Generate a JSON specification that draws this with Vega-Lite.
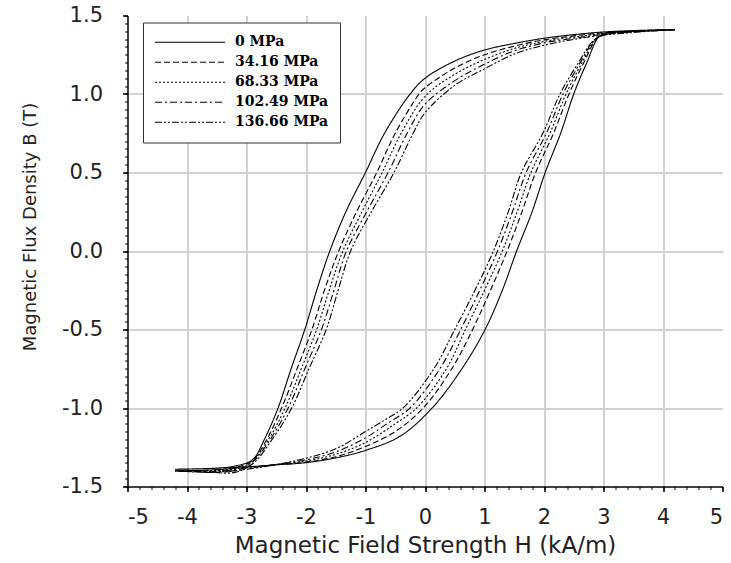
{
  "$schema": "https://vega.github.io/schema/vega-lite/v6.json",
  "width": 595,
  "height": 471,
  "autosize": {"type": "none"},
  "padding": {"left": 127.5, "top": 15.5, "right": 8.5, "bottom": 76.5},
  "background": "white",
  "config": {
    "view": {"stroke": null},
    "font": "DejaVu Sans"
  },
  "data": {
    "values": [
      {"s":"0 MPa","i":1,"h":4.2,"b":1.41},{"s":"0 MPa","i":2,"h":3.6,"b":1.405},{"s":"0 MPa","i":3,"h":3.0,"b":1.395},{"s":"0 MPa","i":4,"h":2.5,"b":1.378},{"s":"0 MPa","i":5,"h":2.0,"b":1.355},{"s":"0 MPa","i":6,"h":1.5,"b":1.322},{"s":"0 MPa","i":7,"h":1.0,"b":1.28},{"s":"0 MPa","i":8,"h":0.5,"b":1.21},{"s":"0 MPa","i":9,"h":0.0,"b":1.10},{"s":"0 MPa","i":10,"h":-0.25,"b":1.0},{"s":"0 MPa","i":11,"h":-0.68,"b":0.75},{"s":"0 MPa","i":12,"h":-1.0,"b":0.5},{"s":"0 MPa","i":13,"h":-1.33,"b":0.25},{"s":"0 MPa","i":14,"h":-1.6,"b":0.0},{"s":"0 MPa","i":15,"h":-1.82,"b":-0.25},{"s":"0 MPa","i":16,"h":-2.02,"b":-0.5},{"s":"0 MPa","i":17,"h":-2.25,"b":-0.75},{"s":"0 MPa","i":18,"h":-2.47,"b":-1.0},{"s":"0 MPa","i":19,"h":-2.7,"b":-1.2},{"s":"0 MPa","i":20,"h":-2.9,"b":-1.33},{"s":"0 MPa","i":21,"h":-3.2,"b":-1.37},{"s":"0 MPa","i":22,"h":-3.6,"b":-1.385},{"s":"0 MPa","i":23,"h":-4.2,"b":-1.39},{"s":"0 MPa","i":24,"h":-3.6,"b":-1.385},{"s":"0 MPa","i":25,"h":-3.0,"b":-1.375},{"s":"0 MPa","i":26,"h":-2.5,"b":-1.362},{"s":"0 MPa","i":27,"h":-2.0,"b":-1.348},{"s":"0 MPa","i":28,"h":-1.5,"b":-1.318},{"s":"0 MPa","i":29,"h":-1.0,"b":-1.27},{"s":"0 MPa","i":30,"h":-0.42,"b":-1.18},{"s":"0 MPa","i":31,"h":0.12,"b":-1.0},{"s":"0 MPa","i":32,"h":0.62,"b":-0.75},{"s":"0 MPa","i":33,"h":1.01,"b":-0.5},{"s":"0 MPa","i":34,"h":1.3,"b":-0.25},{"s":"0 MPa","i":35,"h":1.54,"b":0.0},{"s":"0 MPa","i":36,"h":1.8,"b":0.25},{"s":"0 MPa","i":37,"h":2.02,"b":0.5},{"s":"0 MPa","i":38,"h":2.28,"b":0.75},{"s":"0 MPa","i":39,"h":2.5,"b":1.0},{"s":"0 MPa","i":40,"h":2.72,"b":1.2},{"s":"0 MPa","i":41,"h":2.94,"b":1.37},{"s":"0 MPa","i":42,"h":3.2,"b":1.395},{"s":"0 MPa","i":43,"h":3.6,"b":1.403},{"s":"0 MPa","i":44,"h":4.2,"b":1.41},

      {"s":"34.16 MPa","i":1,"h":4.2,"b":1.41},{"s":"34.16 MPa","i":2,"h":3.6,"b":1.40},{"s":"34.16 MPa","i":3,"h":3.0,"b":1.39},{"s":"34.16 MPa","i":4,"h":2.5,"b":1.37},{"s":"34.16 MPa","i":5,"h":2.0,"b":1.345},{"s":"34.16 MPa","i":6,"h":1.5,"b":1.305},{"s":"34.16 MPa","i":7,"h":1.0,"b":1.25},{"s":"34.16 MPa","i":8,"h":0.5,"b":1.165},{"s":"34.16 MPa","i":9,"h":0.0,"b":1.04},{"s":"34.16 MPa","i":10,"h":-0.1,"b":1.0},{"s":"34.16 MPa","i":11,"h":-0.5,"b":0.75},{"s":"34.16 MPa","i":12,"h":-0.81,"b":0.5},{"s":"34.16 MPa","i":13,"h":-1.15,"b":0.25},{"s":"34.16 MPa","i":14,"h":-1.45,"b":0.0},{"s":"34.16 MPa","i":15,"h":-1.69,"b":-0.25},{"s":"34.16 MPa","i":16,"h":-1.90,"b":-0.5},{"s":"34.16 MPa","i":17,"h":-2.15,"b":-0.75},{"s":"34.16 MPa","i":18,"h":-2.41,"b":-1.0},{"s":"34.16 MPa","i":19,"h":-2.66,"b":-1.2},{"s":"34.16 MPa","i":20,"h":-2.9,"b":-1.335},{"s":"34.16 MPa","i":21,"h":-3.2,"b":-1.38},{"s":"34.16 MPa","i":22,"h":-3.6,"b":-1.395},{"s":"34.16 MPa","i":23,"h":-4.2,"b":-1.40},{"s":"34.16 MPa","i":24,"h":-3.6,"b":-1.395},{"s":"34.16 MPa","i":25,"h":-3.0,"b":-1.378},{"s":"34.16 MPa","i":26,"h":-2.5,"b":-1.362},{"s":"34.16 MPa","i":27,"h":-2.0,"b":-1.345},{"s":"34.16 MPa","i":28,"h":-1.5,"b":-1.31},{"s":"34.16 MPa","i":29,"h":-1.0,"b":-1.245},{"s":"34.16 MPa","i":30,"h":-0.5,"b":-1.15},{"s":"34.16 MPa","i":31,"h":-0.03,"b":-1.0},{"s":"34.16 MPa","i":32,"h":0.45,"b":-0.75},{"s":"34.16 MPa","i":33,"h":0.8,"b":-0.5},{"s":"34.16 MPa","i":34,"h":1.1,"b":-0.25},{"s":"34.16 MPa","i":35,"h":1.38,"b":0.0},{"s":"34.16 MPa","i":36,"h":1.63,"b":0.25},{"s":"34.16 MPa","i":37,"h":1.86,"b":0.5},{"s":"34.16 MPa","i":38,"h":2.16,"b":0.75},{"s":"34.16 MPa","i":39,"h":2.42,"b":1.0},{"s":"34.16 MPa","i":40,"h":2.67,"b":1.2},{"s":"34.16 MPa","i":41,"h":2.92,"b":1.365},{"s":"34.16 MPa","i":42,"h":3.2,"b":1.392},{"s":"34.16 MPa","i":43,"h":3.6,"b":1.403},{"s":"34.16 MPa","i":44,"h":4.2,"b":1.41},

      {"s":"68.33 MPa","i":1,"h":4.2,"b":1.41},{"s":"68.33 MPa","i":2,"h":3.6,"b":1.40},{"s":"68.33 MPa","i":3,"h":3.0,"b":1.385},{"s":"68.33 MPa","i":4,"h":2.5,"b":1.362},{"s":"68.33 MPa","i":5,"h":2.0,"b":1.335},{"s":"68.33 MPa","i":6,"h":1.5,"b":1.29},{"s":"68.33 MPa","i":7,"h":1.0,"b":1.22},{"s":"68.33 MPa","i":8,"h":0.5,"b":1.125},{"s":"68.33 MPa","i":9,"h":0.0,"b":0.985},{"s":"68.33 MPa","i":10,"h":-0.4,"b":0.75},{"s":"68.33 MPa","i":11,"h":-0.72,"b":0.5},{"s":"68.33 MPa","i":12,"h":-1.06,"b":0.25},{"s":"68.33 MPa","i":13,"h":-1.38,"b":0.0},{"s":"68.33 MPa","i":14,"h":-1.61,"b":-0.25},{"s":"68.33 MPa","i":15,"h":-1.82,"b":-0.5},{"s":"68.33 MPa","i":16,"h":-2.08,"b":-0.75},{"s":"68.33 MPa","i":17,"h":-2.35,"b":-1.0},{"s":"68.33 MPa","i":18,"h":-2.63,"b":-1.2},{"s":"68.33 MPa","i":19,"h":-2.9,"b":-1.34},{"s":"68.33 MPa","i":20,"h":-3.2,"b":-1.39},{"s":"68.33 MPa","i":21,"h":-3.6,"b":-1.40},{"s":"68.33 MPa","i":22,"h":-4.2,"b":-1.40},{"s":"68.33 MPa","i":23,"h":-3.6,"b":-1.40},{"s":"68.33 MPa","i":24,"h":-3.0,"b":-1.38},{"s":"68.33 MPa","i":25,"h":-2.5,"b":-1.36},{"s":"68.33 MPa","i":26,"h":-2.0,"b":-1.338},{"s":"68.33 MPa","i":27,"h":-1.5,"b":-1.295},{"s":"68.33 MPa","i":28,"h":-1.0,"b":-1.22},{"s":"68.33 MPa","i":29,"h":-0.5,"b":-1.10},{"s":"68.33 MPa","i":30,"h":-0.14,"b":-1.0},{"s":"68.33 MPa","i":31,"h":0.36,"b":-0.75},{"s":"68.33 MPa","i":32,"h":0.68,"b":-0.5},{"s":"68.33 MPa","i":33,"h":1.0,"b":-0.25},{"s":"68.33 MPa","i":34,"h":1.30,"b":0.0},{"s":"68.33 MPa","i":35,"h":1.55,"b":0.25},{"s":"68.33 MPa","i":36,"h":1.78,"b":0.5},{"s":"68.33 MPa","i":37,"h":2.10,"b":0.75},{"s":"68.33 MPa","i":38,"h":2.37,"b":1.0},{"s":"68.33 MPa","i":39,"h":2.64,"b":1.2},{"s":"68.33 MPa","i":40,"h":2.9,"b":1.36},{"s":"68.33 MPa","i":41,"h":3.2,"b":1.39},{"s":"68.33 MPa","i":42,"h":3.6,"b":1.402},{"s":"68.33 MPa","i":43,"h":4.2,"b":1.41},

      {"s":"102.49 MPa","i":1,"h":4.2,"b":1.41},{"s":"102.49 MPa","i":2,"h":3.6,"b":1.398},{"s":"102.49 MPa","i":3,"h":3.0,"b":1.38},{"s":"102.49 MPa","i":4,"h":2.5,"b":1.355},{"s":"102.49 MPa","i":5,"h":2.0,"b":1.325},{"s":"102.49 MPa","i":6,"h":1.5,"b":1.275},{"s":"102.49 MPa","i":7,"h":1.0,"b":1.19},{"s":"102.49 MPa","i":8,"h":0.5,"b":1.085},{"s":"102.49 MPa","i":9,"h":0.0,"b":0.935},{"s":"102.49 MPa","i":10,"h":-0.3,"b":0.75},{"s":"102.49 MPa","i":11,"h":-0.62,"b":0.5},{"s":"102.49 MPa","i":12,"h":-0.98,"b":0.25},{"s":"102.49 MPa","i":13,"h":-1.32,"b":0.0},{"s":"102.49 MPa","i":14,"h":-1.53,"b":-0.25},{"s":"102.49 MPa","i":15,"h":-1.74,"b":-0.5},{"s":"102.49 MPa","i":16,"h":-2.02,"b":-0.75},{"s":"102.49 MPa","i":17,"h":-2.30,"b":-1.0},{"s":"102.49 MPa","i":18,"h":-2.60,"b":-1.2},{"s":"102.49 MPa","i":19,"h":-2.9,"b":-1.345},{"s":"102.49 MPa","i":20,"h":-3.2,"b":-1.40},{"s":"102.49 MPa","i":21,"h":-3.6,"b":-1.405},{"s":"102.49 MPa","i":22,"h":-4.2,"b":-1.40},{"s":"102.49 MPa","i":23,"h":-3.6,"b":-1.405},{"s":"102.49 MPa","i":24,"h":-3.0,"b":-1.385},{"s":"102.49 MPa","i":25,"h":-2.5,"b":-1.36},{"s":"102.49 MPa","i":26,"h":-2.0,"b":-1.33},{"s":"102.49 MPa","i":27,"h":-1.5,"b":-1.28},{"s":"102.49 MPa","i":28,"h":-1.0,"b":-1.19},{"s":"102.49 MPa","i":29,"h":-0.6,"b":-1.09},{"s":"102.49 MPa","i":30,"h":-0.25,"b":-1.0},{"s":"102.49 MPa","i":31,"h":0.25,"b":-0.75},{"s":"102.49 MPa","i":32,"h":0.6,"b":-0.5},{"s":"102.49 MPa","i":33,"h":0.92,"b":-0.25},{"s":"102.49 MPa","i":34,"h":1.22,"b":0.0},{"s":"102.49 MPa","i":35,"h":1.47,"b":0.25},{"s":"102.49 MPa","i":36,"h":1.70,"b":0.5},{"s":"102.49 MPa","i":37,"h":2.04,"b":0.75},{"s":"102.49 MPa","i":38,"h":2.32,"b":1.0},{"s":"102.49 MPa","i":39,"h":2.61,"b":1.2},{"s":"102.49 MPa","i":40,"h":2.88,"b":1.355},{"s":"102.49 MPa","i":41,"h":3.2,"b":1.39},{"s":"102.49 MPa","i":42,"h":3.6,"b":1.40},{"s":"102.49 MPa","i":43,"h":4.2,"b":1.41},

      {"s":"136.66 MPa","i":1,"h":4.2,"b":1.41},{"s":"136.66 MPa","i":2,"h":3.6,"b":1.395},{"s":"136.66 MPa","i":3,"h":3.0,"b":1.375},{"s":"136.66 MPa","i":4,"h":2.5,"b":1.348},{"s":"136.66 MPa","i":5,"h":2.0,"b":1.31},{"s":"136.66 MPa","i":6,"h":1.5,"b":1.255},{"s":"136.66 MPa","i":7,"h":1.0,"b":1.16},{"s":"136.66 MPa","i":8,"h":0.5,"b":1.055},{"s":"136.66 MPa","i":9,"h":0.0,"b":0.88},{"s":"136.66 MPa","i":10,"h":-0.2,"b":0.75},{"s":"136.66 MPa","i":11,"h":-0.52,"b":0.5},{"s":"136.66 MPa","i":12,"h":-0.9,"b":0.25},{"s":"136.66 MPa","i":13,"h":-1.25,"b":0.0},{"s":"136.66 MPa","i":14,"h":-1.46,"b":-0.25},{"s":"136.66 MPa","i":15,"h":-1.66,"b":-0.5},{"s":"136.66 MPa","i":16,"h":-1.95,"b":-0.75},{"s":"136.66 MPa","i":17,"h":-2.24,"b":-1.0},{"s":"136.66 MPa","i":18,"h":-2.57,"b":-1.2},{"s":"136.66 MPa","i":19,"h":-2.88,"b":-1.35},{"s":"136.66 MPa","i":20,"h":-3.2,"b":-1.41},{"s":"136.66 MPa","i":21,"h":-3.6,"b":-1.41},{"s":"136.66 MPa","i":22,"h":-4.2,"b":-1.40},{"s":"136.66 MPa","i":23,"h":-3.6,"b":-1.41},{"s":"136.66 MPa","i":24,"h":-3.0,"b":-1.39},{"s":"136.66 MPa","i":25,"h":-2.5,"b":-1.36},{"s":"136.66 MPa","i":26,"h":-2.0,"b":-1.32},{"s":"136.66 MPa","i":27,"h":-1.5,"b":-1.26},{"s":"136.66 MPa","i":28,"h":-1.0,"b":-1.15},{"s":"136.66 MPa","i":29,"h":-0.65,"b":-1.07},{"s":"136.66 MPa","i":30,"h":-0.37,"b":-1.0},{"s":"136.66 MPa","i":31,"h":0.15,"b":-0.75},{"s":"136.66 MPa","i":32,"h":0.5,"b":-0.5},{"s":"136.66 MPa","i":33,"h":0.84,"b":-0.25},{"s":"136.66 MPa","i":34,"h":1.15,"b":0.0},{"s":"136.66 MPa","i":35,"h":1.4,"b":0.25},{"s":"136.66 MPa","i":36,"h":1.62,"b":0.5},{"s":"136.66 MPa","i":37,"h":1.98,"b":0.75},{"s":"136.66 MPa","i":38,"h":2.27,"b":1.0},{"s":"136.66 MPa","i":39,"h":2.58,"b":1.2},{"s":"136.66 MPa","i":40,"h":2.86,"b":1.35},{"s":"136.66 MPa","i":41,"h":3.2,"b":1.388},{"s":"136.66 MPa","i":42,"h":3.6,"b":1.40},{"s":"136.66 MPa","i":43,"h":4.2,"b":1.41}
    ]
  },
  "layer": [
    {
      "mark": {"type": "point", "opacity": 0},
      "encoding": {
        "x": {"field": "h", "type": "quantitative", "scale": {"domain": [-5, 5], "nice": false},
          "axis": {"orient": "bottom", "tickCount": 50, "labels": false, "domain": false, "grid": false, "title": null, "tickSize": 3, "tickColor": "black", "tickWidth": 1}},
        "y": {"field": "b", "type": "quantitative", "scale": {"domain": [-1.5, 1.5], "nice": false},
          "axis": {"orient": "left", "tickCount": 60, "labels": false, "domain": false, "grid": false, "title": null, "tickSize": 3, "tickColor": "black", "tickWidth": 1}}
      }
    },
    {
      "mark": {"type": "line", "color": "black", "strokeWidth": 1.1, "interpolate": "catmull-rom"},
      "encoding": {
        "x": {"field": "h", "type": "quantitative", "scale": {"domain": [-5, 5], "nice": false},
          "axis": {"orient": "bottom", "values": [-5,-4,-3,-2,-1,0,1,2,3,4,5], "title": "Magnetic Field Strength H (kA/m)",
            "labelExpr": "replace(format(datum.value, 'd'), '\u2212', '-')",
            "grid": true, "gridColor": "#d2d2d2", "gridWidth": 2,
            "gridOpacity": {"condition": {"test": "datum.value == 5 || datum.value == -5", "value": 0}, "value": 1},
            "domainColor": "black", "domainWidth": 1.5, "tickColor": "black", "tickWidth": 1.5, "tickSize": 5,
            "labelFontSize": 21, "labelColor": "#222", "labelPadding": 15, "labelFont": "DejaVu Sans",
            "titleFontSize": 23, "titleFontWeight": "normal", "titleColor": "#222", "titlePadding": 7, "titleFont": "DejaVu Sans"}},
        "y": {"field": "b", "type": "quantitative", "scale": {"domain": [-1.5, 1.5], "nice": false},
          "axis": {"orient": "left", "values": [-1.5,-1,-0.5,0,0.5,1,1.5], "title": "Magnetic Flux Density B (T)",
            "labelExpr": "replace(format(datum.value, '.1f'), '\u2212', '-')",
            "grid": true, "gridColor": "#d2d2d2", "gridWidth": 2,
            "gridOpacity": {"condition": {"test": "datum.value == 1.5 || datum.value == -1.5", "value": 0}, "value": 1},
            "domainColor": "black", "domainWidth": 1.5, "tickColor": "black", "tickWidth": 1.5, "tickSize": 5,
            "labelFontSize": 21, "labelColor": "#222", "labelPadding": 20, "labelFont": "DejaVu Sans",
            "titleFontSize": 18, "titleFontWeight": "normal", "titleColor": "#222", "titleFont": "DejaVu Sans",
            "titleX": -88, "titleY": 211}},
        "order": {"field": "i", "type": "quantitative"},
        "strokeDash": {"field": "s", "type": "nominal",
          "scale": {"domain": ["0 MPa", "34.16 MPa", "68.33 MPa", "102.49 MPa", "136.66 MPa"],
                    "range": [[1, 0], [6, 3], [2, 2], [7, 3, 2, 3], [7, 2, 2, 2, 2, 2]]},
          "legend": {"orient": "none", "legendX": 15.5, "legendY": 7, "title": null,
            "symbolType": "stroke", "symbolSize": 4900, "symbolStrokeWidth": 1.1, "symbolStrokeColor": "black",
            "clipHeight": 17.5,
            "labelFont": "DejaVu Serif", "labelFontWeight": "bold", "labelFontSize": 14, "labelColor": "black",
            "labelOffset": 9, "rowPadding": 2, "padding": 11, "strokeColor": "#333", "fillColor": "white", "cornerRadius": 0}}
      }
    }
  ],
  "resolve": {"axis": {"x": "independent", "y": "independent"}}
}
